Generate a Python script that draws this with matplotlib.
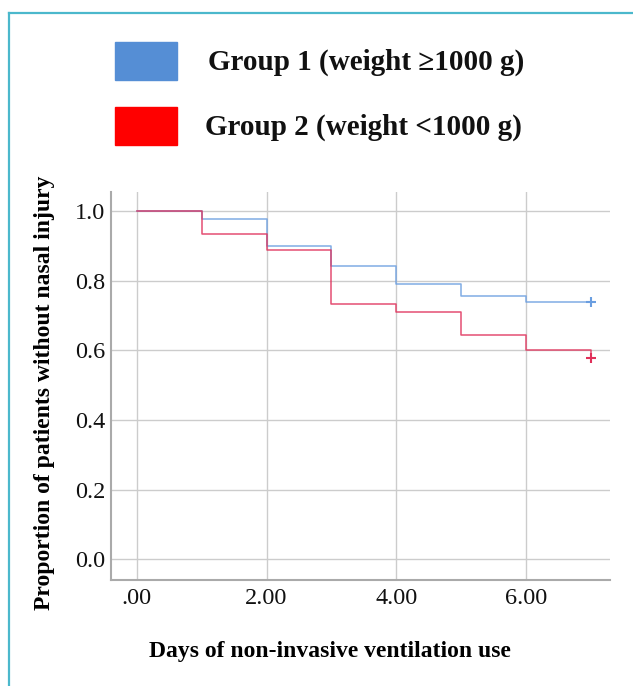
import matplotlib.pyplot as plt
from matplotlib.patches import Rectangle
from matplotlib.lines import Line2D

plt.rcParams['font.family'] = ['Liberation Serif', 'DejaVu Serif']

# Kaplan-Meier steps
days = [0, 1, 2, 3, 4, 5, 6, 7]
group1 = [1.0, 0.978, 0.899, 0.841, 0.791, 0.755, 0.740, 0.740]
group2 = [1.0, 0.934, 0.888, 0.733, 0.711, 0.644, 0.600, 0.577]
censor_day = 7
labels = ['Group 1 (weight \u22651000 g)', 'Group 2 (weight <1000 g)']
line_colors = ['#6a9ee0', '#e0305a']
patch_colors = ['#558ed5', '#ff0000']

W, H = 633, 686
fig = plt.figure(figsize=(W / 100, H / 100), dpi=100)
ax = fig.add_axes([111 / W, 1 - 580 / H, (610 - 111) / W, (580 - 192) / H])

for vals, c in zip([group1, group2], line_colors):
    ax.step(days, vals, where='post', color=c, lw=1.1, alpha=0.85)
    ax.plot([censor_day], [vals[-1]], marker='+', color=c, ms=7, mew=1.5)

ax.set_xlim(-0.40, 7.30)
ax.set_ylim(-0.060, 1.055)
ax.set_xticks([0, 2, 4, 6])
ax.set_xticklabels(['.00', '2.00', '4.00', '6.00'])
ax.set_yticks([0, 0.2, 0.4, 0.6, 0.8, 1.0])
ax.set_yticklabels(['0.0', '0.2', '0.4', '0.6', '0.8', '1.0'])
ax.tick_params(length=0, labelsize=17.5, colors='#111111')
ax.tick_params(axis='x', pad=6)
ax.tick_params(axis='y', pad=4)
ax.grid(True, color='#cccccc', lw=1)
ax.set_axisbelow(True)
for s in ['top', 'right']:
    ax.spines[s].set_visible(False)
for s in ['left', 'bottom']:
    ax.spines[s].set_color('#aaaaaa')
    ax.spines[s].set_linewidth(1.5)

fig.text(45 / W, 1 - 393 / H, 'Proportion of patients without nasal injury',
         rotation=90, ha='center', va='center', fontsize=17, fontweight='bold',
         color='#000000')
fig.text(330 / W, 1 - 651 / H, 'Days of non-invasive ventilation use',
         ha='center', va='center', fontsize=17, fontweight='bold', color='#000000')

# legend boxes drawn by hand
for i, (lab, pc) in enumerate(zip(labels, patch_colors)):
    top = 42 + i * 65
    fig.patches.append(Rectangle((115 / W, 1 - (top + 38) / H), 62 / W, 38 / H,
                                 transform=fig.transFigure, color=pc))
    fig.text((208 - 3 * i) / W, 1 - (top + 20) / H, lab, ha='left', va='center',
             fontsize=21, fontweight='bold', color='#111111')

# teal frame on top and left
frame = '#4bb8cc'
fig.lines.append(Line2D([9 / W, 1], [1 - 13 / H, 1 - 13 / H], transform=fig.transFigure,
                        color=frame, lw=1.6))
fig.lines.append(Line2D([9 / W, 9 / W], [0, 1 - 13 / H], transform=fig.transFigure,
                        color=frame, lw=1.6))

fig.savefig('out.png', dpi=100)
